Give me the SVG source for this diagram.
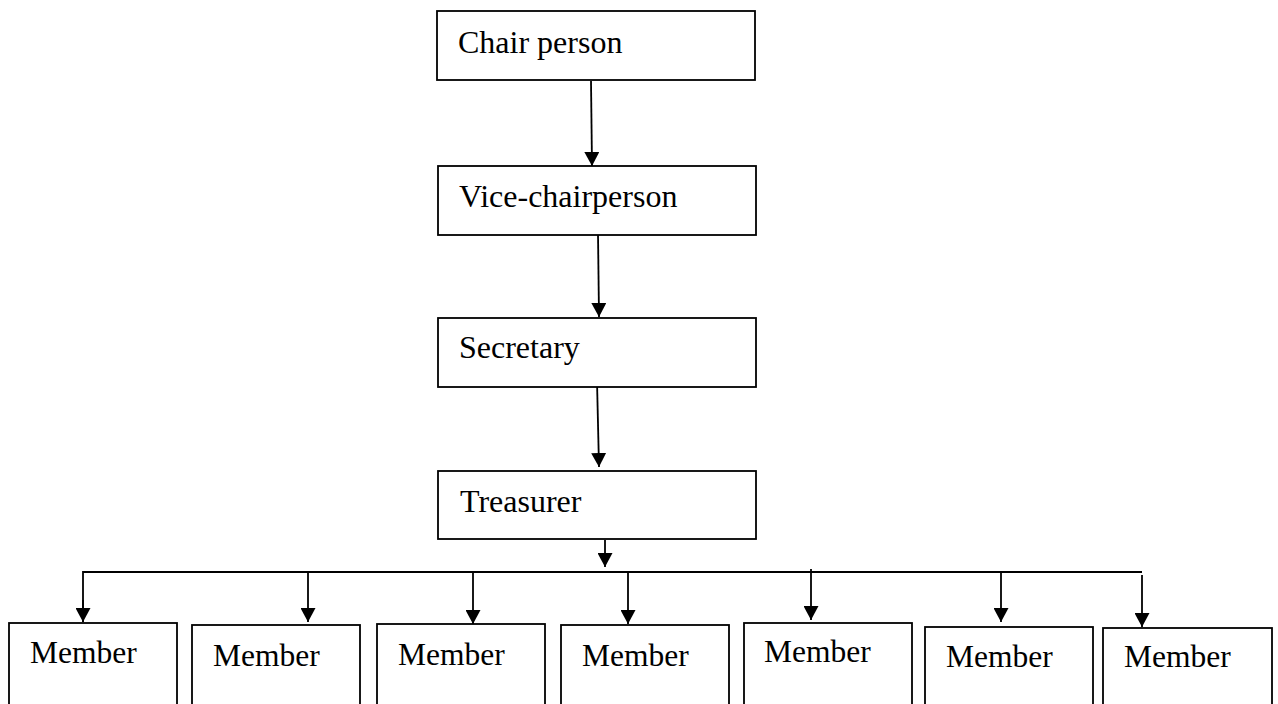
<svg xmlns="http://www.w3.org/2000/svg" width="1278" height="704" viewBox="0 0 1278 704">
<defs>
<marker id="ah" markerUnits="userSpaceOnUse" markerWidth="16" markerHeight="15" refX="14" refY="7.5" orient="auto">
<path d="M0,0 L14,7.5 L0,15 Z" fill="#000"/>
</marker>
<style>
.box{fill:#fff;stroke:#000;stroke-width:1.8}
.t{font-family:"Liberation Serif","Times New Roman",serif;font-size:32px;fill:#000}
.m{font-family:"Liberation Serif","Times New Roman",serif;font-size:31.5px;fill:#000}
.c{fill:none;stroke:#000;stroke-width:1.8}
</style>
</defs>
<rect width="1278" height="704" fill="#fff"/>
<g id="connectors">
<line class="c" x1="591" y1="81" x2="592" y2="166" marker-end="url(#ah)"/>
<line class="c" x1="598" y1="233" x2="599" y2="317" marker-end="url(#ah)"/>
<line class="c" x1="597" y1="381" x2="599" y2="467" marker-end="url(#ah)"/>
<line class="c" x1="605" y1="540" x2="605" y2="567" marker-end="url(#ah)"/>
<polyline class="c" points="83,622 83,572 1142,572"/>
<line class="c" x1="83" y1="600" x2="83" y2="622" marker-end="url(#ah)"/>
<line class="c" x1="308" y1="572" x2="308" y2="622" marker-end="url(#ah)"/>
<line class="c" x1="473" y1="573" x2="473" y2="624" marker-end="url(#ah)"/>
<line class="c" x1="628" y1="573" x2="628" y2="624" marker-end="url(#ah)"/>
<line class="c" x1="811" y1="569" x2="811" y2="620" marker-end="url(#ah)"/>
<line class="c" x1="1001" y1="572" x2="1001" y2="622" marker-end="url(#ah)"/>
<line class="c" x1="1142" y1="575" x2="1142" y2="627" marker-end="url(#ah)"/>
</g>
<g id="chair"><rect class="box" x="437" y="11" width="318" height="69"/><text class="t" x="458" y="53">Chair person</text></g>
<g id="vice"><rect class="box" x="438" y="166" width="318" height="69"/><text class="t" x="459" y="207">Vice-chairperson</text></g>
<g id="secretary"><rect class="box" x="438" y="318" width="318" height="69"/><text class="t" x="459" y="358">Secretary</text></g>
<g id="treasurer"><rect class="box" x="438" y="471" width="318" height="68"/><text class="t" x="460" y="512">Treasurer</text></g>
<g id="member1"><rect class="box" x="9" y="623" width="168" height="100"/><text class="m" x="30" y="663">Member</text></g>
<g id="member2"><rect class="box" x="192" y="625" width="168" height="100"/><text class="m" x="213" y="666">Member</text></g>
<g id="member3"><rect class="box" x="377" y="624" width="168" height="100"/><text class="m" x="398" y="665">Member</text></g>
<g id="member4"><rect class="box" x="561" y="625" width="168" height="100"/><text class="m" x="582" y="666">Member</text></g>
<g id="member5"><rect class="box" x="744" y="623" width="168" height="100"/><text class="m" x="764" y="662">Member</text></g>
<g id="member6"><rect class="box" x="925" y="627" width="168" height="100"/><text class="m" x="946" y="667">Member</text></g>
<g id="member7"><rect class="box" x="1103" y="628" width="169" height="100"/><text class="m" x="1124" y="667">Member</text></g>
</svg>
